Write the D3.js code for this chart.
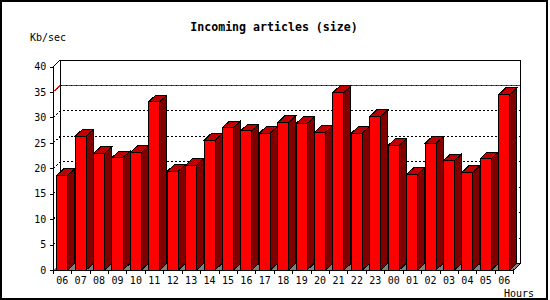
<!DOCTYPE html>
<html>
<head>
<meta charset="utf-8">
<script src="https://cdn.jsdelivr.net/npm/d3@7"></script>
<style>
body { margin: 0; background: #fff; }
svg text { font-family: "DejaVu Sans Mono", monospace; }
</style>
</head>
<body>
<script>
let hours = ['06','07','08','09','10','11','12','13','14','15','16','17','18',
	'19','20','21','22','23','00','01','02','03','04','05','06'];
let kbPerSec = [18.6, 26.3, 22.9, 22.1, 23.1, 33.1, 19.4, 20.6, 25.5, 28.0, 27.4, 26.9, 29.0,
	28.8, 27.1, 34.9, 26.9, 30.2, 24.5, 18.8, 24.9, 21.5, 19.2, 21.9, 34.5];
let yTicks = [0, 5, 10, 15, 20, 25, 30, 35, 40];
let limitLine = 35;

let width = 550, height = 300;
let depth = {dx: 7, dy: 6.5};
let plot = {left: 53.3, right: 513.7, bottom: 270, top: 66.5};

let svg = d3.select('body').append('svg')
	.attr('width', width)
	.attr('height', height)
	.attr('shape-rendering', 'crispEdges');

// outer frame
svg.append('rect')
	.attr('x', 1).attr('y', 1)
	.attr('width', 546).attr('height', 298)
	.attr('fill', '#fff')
	.attr('stroke', '#000')
	.attr('stroke-width', 2);

let x = d3.scaleBand()
	.domain(d3.range(hours.length))
	.range([plot.left, plot.right]);
let y = d3.scaleLinear()
	.domain([0, 40])
	.range([plot.bottom, plot.top]);
let bw = x.bandwidth();
let faceOff = bw * 0.185, faceW = bw * 0.6;

let line = d3.line().x(function(d){ return d[0]; }).y(function(d){ return d[1]; });
let g = svg.append('g');

//floor
g.append('path')
	.attr('d', line([[plot.left, plot.bottom], [plot.left + depth.dx, plot.bottom - depth.dy],
		[plot.right + depth.dx, plot.bottom - depth.dy], [plot.right, plot.bottom]]) + 'Z')
	.attr('fill', '#808080');

//gridlines on back wall + diagonals from the axis
yTicks.filter(function(t){ return t > 0 && t < 40; }).forEach(function(t) {
	let yy = y(t);
	let pts = [[plot.left, yy], [plot.left + depth.dx, yy - depth.dy], [plot.right + depth.dx, yy - depth.dy]];
	if (t === limitLine) {
		g.append('path').attr('d', line(pts)).attr('fill', 'none')
			.attr('stroke', '#f00').attr('stroke-width', 1);
		g.append('path').attr('d', line(pts)).attr('fill', 'none')
			.attr('stroke', '#000').attr('stroke-width', 1)
			.attr('stroke-dasharray', '1,4');
	} else {
		g.append('path').attr('d', line(pts)).attr('fill', 'none')
			.attr('stroke', '#000').attr('stroke-width', 1)
			.attr('stroke-dasharray', '2,2');
	}
});

//back wall frame
g.append('path')
	.attr('d', line([[plot.left, y(40)], [plot.left + depth.dx, y(40) - depth.dy],
		[plot.right + depth.dx, y(40) - depth.dy], [plot.right + depth.dx, plot.bottom - depth.dy],
		[plot.right, plot.bottom]]))
	.attr('fill', 'none').attr('stroke', '#000');
g.append('path')
	.attr('d', line([[plot.left + depth.dx, y(40) - depth.dy], [plot.left + depth.dx, plot.bottom - depth.dy],
		[plot.right + depth.dx, plot.bottom - depth.dy]]))
	.attr('fill', 'none').attr('stroke', '#000');

//bars
let bars = g.selectAll('g.bar').data(kbPerSec).enter().append('g').attr('class', 'bar');
bars.append('path')
	.attr('d', function(d, i) {
		let x1 = x(i) + faceOff + faceW, yt = y(d);
		return line([[x1, yt], [x1 + depth.dx, yt - depth.dy], [x1 + depth.dx, plot.bottom - depth.dy], [x1, plot.bottom]]) + 'Z';
	})
	.attr('fill', '#800000').attr('stroke', '#000');
bars.append('path')
	.attr('d', function(d, i) {
		let x0 = x(i) + faceOff, x1 = x0 + faceW, yt = y(d);
		return line([[x0, yt], [x0 + depth.dx, yt - depth.dy], [x1 + depth.dx, yt - depth.dy], [x1, yt]]) + 'Z';
	})
	.attr('fill', '#c00000').attr('stroke', '#000');
bars.append('rect')
	.attr('x', function(d, i){ return x(i) + faceOff; })
	.attr('y', function(d){ return y(d); })
	.attr('width', faceW)
	.attr('height', function(d){ return plot.bottom - y(d); })
	.attr('fill', '#f00').attr('stroke', '#000');

//front axes
g.append('line')
	.attr('x1', plot.left).attr('x2', plot.left)
	.attr('y1', y(40)).attr('y2', plot.bottom + 4)
	.attr('stroke', '#000');
g.append('line')
	.attr('x1', plot.left).attr('x2', plot.right)
	.attr('y1', plot.bottom).attr('y2', plot.bottom)
	.attr('stroke', '#000');

let yAxis = d3.axisLeft(y).tickValues(yTicks).tickSize(3).tickPadding(4);
let ya = svg.append('g').attr('transform', 'translate(' + plot.left + ',0)').call(yAxis);
ya.select('.domain').remove();
ya.selectAll('text').attr('font-size', 10).attr('font-family', '"DejaVu Sans Mono", monospace').attr('fill', '#000');

// x ticks on slot boundaries
g.selectAll('line.xtick').data(d3.range(hours.length + 1)).enter().append('line')
	.attr('class', 'xtick')
	.attr('x1', function(i){ return plot.left + bw * i; })
	.attr('x2', function(i){ return plot.left + bw * i; })
	.attr('y1', plot.bottom).attr('y2', plot.bottom + 4)
	.attr('stroke', '#000');
svg.selectAll('text.xlab').data(hours).enter().append('text')
	.attr('class', 'xlab')
	.attr('x', function(d, i){ return x(i) + faceOff + faceW / 2; })
	.attr('y', 280)
	.attr('dy', '0.35em')
	.attr('text-anchor', 'middle')
	.attr('font-size', 10)
	.text(function(d){ return d; });

svg.append('text')
	.attr('x', 274).attr('y', 27).attr('dy', '0.35em')
	.attr('text-anchor', 'middle')
	.attr('font-size', 11.6).attr('font-weight', 'bold')
	.text('Incoming articles (size)');
svg.append('text')
	.attr('x', 30).attr('y', 37).attr('dy', '0.35em')
	.attr('font-size', 10)
	.text('Kb/sec');
svg.append('text')
	.attr('x', 534).attr('y', 293).attr('dy', '0.35em')
	.attr('text-anchor', 'end')
	.attr('font-size', 10)
	.text('Hours');
</script>
</body>
</html>
